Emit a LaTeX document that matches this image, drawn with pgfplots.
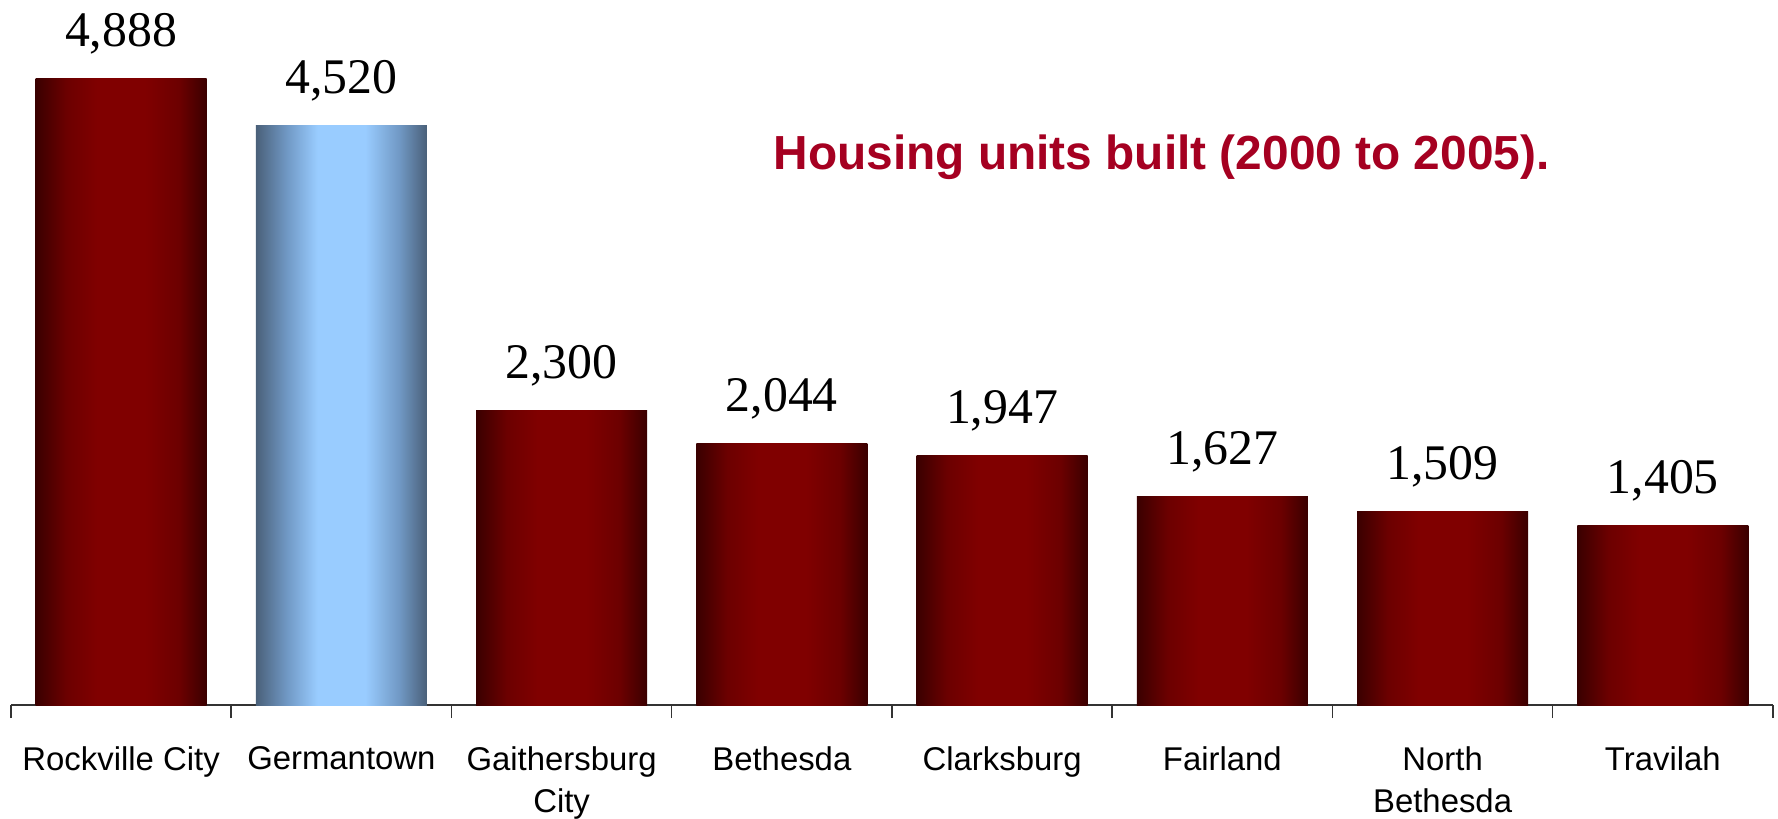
\documentclass[border=0pt]{standalone}
\usepackage{pgfplots}
\pgfplotsset{compat=1.18}
\usepackage{fontspec}
\setmainfont{Liberation Serif}
\newfontfamily\arial{Liberation Sans}
\definecolor{rdark}{RGB}{58,0,0}
\definecolor{rmid}{RGB}{108,0,0}
\definecolor{rbright}{RGB}{128,0,0}
\definecolor{bdark}{RGB}{74,96,121}
\definecolor{bmid}{RGB}{112,152,196}
\definecolor{bbright}{RGB}{153,204,255}
\definecolor{titlered}{RGB}{165,0,33}
\pgfdeclarehorizontalshading{redbar}{100bp}{color(0bp)=(rdark); color(25bp)=(rdark); color(34bp)=(rmid); color(43bp)=(rbright); color(57bp)=(rbright); color(67bp)=(rmid); color(75bp)=(rdark); color(100bp)=(rdark)}
\pgfdeclarehorizontalshading{bluebar}{100bp}{color(0bp)=(bdark); color(25bp)=(bdark); color(34bp)=(bmid); color(43bp)=(bbright); color(57bp)=(bbright); color(67bp)=(bmid); color(75bp)=(bdark); color(100bp)=(bdark)}
\pgfplotsset{
  redb/.style={ybar, bar width=171bp, bar shift=0pt, draw=none, shading=redbar},
  blueb/.style={ybar, bar width=171bp, bar shift=0pt, draw=none, shading=bluebar},
}
\begin{document}
\begin{tikzpicture}
\begin{axis}[
  scale only axis,
  width=1762bp, height=705bp,
  xmin=-0.5, xmax=7.5,
  ymin=0, ymax=5503,
  clip=false,
  axis x line*=bottom,
  axis y line=none,
  axis line style={line width=1.5bp, color=black!80},
  xtick={0,...,7},
  xticklabels={Rockville City, Germantown, Gaithersburg\\City, Bethesda, Clarksburg, Fairland, North\\Bethesda, Travilah},
  minor xtick={-0.5,0.5,...,7.5},
  major tick length=0pt,
  minor tick length=13bp,
  tick align=outside,
  minor tick style={line width=1.5bp, color=black!80},
  xticklabel style={font=\arial\fontsize{33}{43}\selectfont, align=center, anchor=north, inner sep=0pt, yshift=-41bp},
  nodes near coords={\pgfmathprintnumber[fixed, precision=0, 1000 sep={,}, assume math mode=true]{\pgfplotspointmeta}},
  every node near coord/.append style={font=\fontsize{50}{50}\selectfont, anchor=base, inner sep=0pt, yshift=32bp, text=black},
]
\addplot[redb] coordinates {(0,4888)};
\addplot[blueb] coordinates {(1,4520)};
\addplot[redb] coordinates {(2,2300)};
\addplot[redb] coordinates {(3,2044)};
\addplot[redb] coordinates {(4,1947)};
\addplot[redb] coordinates {(5,1627)};
\addplot[redb] coordinates {(6,1509)};
\addplot[redb] coordinates {(7,1405)};
\coordinate (O) at (axis cs:-0.5,0);
\node[anchor=base, font=\arial\bfseries\fontsize{48}{48}\selectfont, text=titlered, inner sep=0pt] at (rel axis cs:0.653,0.760) {Housing units built (2000 to 2005).};
\end{axis}
\pgfresetboundingbox
\path[use as bounding box] ([xshift=-11bp,yshift=-114bp]O) rectangle ([xshift=1767bp,yshift=705bp]O);
\end{tikzpicture}
\end{document}
